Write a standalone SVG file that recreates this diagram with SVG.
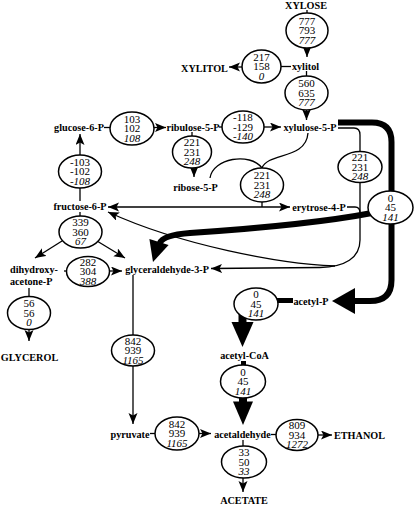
<svg xmlns="http://www.w3.org/2000/svg" width="417" height="508" viewBox="0 0 417 508">
<style>
.e ellipse{fill:#fff;stroke:#000;stroke-width:1.5}
.e text{font-family:"Liberation Serif","Times New Roman",serif;font-size:11px;text-anchor:middle;fill:#000}
.e text.i{font-style:italic}
.m text{font-family:"Liberation Serif","Times New Roman",serif;font-size:10.2px;font-weight:bold;text-anchor:middle;fill:#000}
.c path,.c line{fill:none;stroke:#000;stroke-width:1.3}
.c .a{marker-end:url(#ah)}
.c .b{marker-start:url(#ah);marker-end:url(#ah)}
.c .t{stroke-width:6}
.c polygon{fill:#000;stroke:none}
</style>
<defs>
<marker id="ah" markerUnits="userSpaceOnUse" markerWidth="12" markerHeight="10" refX="11" refY="4.5" orient="auto-start-reverse" viewBox="0 0 12 10">
<path d="M0,0 L11,4.5 L0,9 L2.5,4.5 z" fill="#000"/>
</marker>
</defs>
<g id="connectors" class="c">
<line x1="307" y1="10" x2="307" y2="13"/>
<line class="a" x1="307" y1="48" x2="307" y2="57"/>
<line x1="281" y1="66.5" x2="291" y2="66.5"/>
<line class="a" x1="242" y1="67" x2="229" y2="67"/>
<line x1="306.5" y1="71" x2="306.5" y2="76"/>
<line class="a" x1="306.5" y1="110" x2="306.5" y2="120"/>
<line x1="104" y1="127.5" x2="110" y2="127.5"/>
<line class="a" x1="154" y1="127.5" x2="166" y2="127.5"/>
<line x1="219" y1="127" x2="222" y2="127"/>
<line class="a" x1="264" y1="127" x2="281" y2="127"/>
<line x1="192" y1="132" x2="192" y2="136"/>
<line class="a" x1="194" y1="167" x2="194" y2="177"/>
<path d="M210,178 C213,158 250,152 262,168"/>
<path d="M262,168 C268,152 306,160 308,133"/>
<line x1="262" y1="202" x2="262" y2="207"/>
<line class="b" x1="108" y1="207" x2="290" y2="207"/>
<path d="M347,207 L355,207 Q360,207 360,213"/>
<path d="M338,128 L354,128 Q360,128 360,135 L360,152"/>
<path class="a" d="M360,182 L360,240 C360,258 345,267 320,267.5 L211,268.5"/>
<path class="a" d="M335,266 C280,264 180,245 108,212"/>
<line x1="80" y1="201" x2="80" y2="188"/>
<line class="a" x1="80" y1="155" x2="80" y2="134"/>
<line x1="80" y1="212" x2="80" y2="216"/>
<line class="a" x1="62" y1="241" x2="35" y2="258"/>
<line class="a" x1="97" y1="241" x2="125" y2="258"/>
<line x1="64" y1="271" x2="67" y2="271"/>
<line class="a" x1="109.5" y1="271" x2="122" y2="271"/>
<line x1="29" y1="288" x2="29" y2="296.5"/>
<line class="a" x1="29" y1="329.5" x2="29" y2="341"/>
<line x1="133" y1="275" x2="133" y2="335"/>
<line class="a" x1="133" y1="366" x2="133" y2="424"/>
<line x1="150" y1="433.5" x2="155" y2="433.5"/>
<line class="a" x1="199" y1="433.5" x2="211" y2="433.5"/>
<line x1="271" y1="434.5" x2="276" y2="434.5"/>
<line class="a" x1="318" y1="435" x2="332" y2="435"/>
<line x1="243" y1="440" x2="243" y2="446"/>
<line class="a" x1="243" y1="478" x2="243" y2="492"/>
<path class="t" d="M338,122.5 L372,122.5 Q391.5,122.5 391.5,142 L391.5,280 Q391.5,301 370,301 L354,301"/>
<polygon points="355,288 332,301 355,314"/>
<path class="t" d="M372,213 C320,223 250,229 190,233 Q163,235 160,243"/>
<polygon points="149.4,239 168.6,245 153,262"/>
<line class="t" x1="277" y1="300.5" x2="293" y2="300.5" style="stroke-width:5"/>
<line class="t" x1="242.5" y1="314" x2="242.5" y2="323" style="stroke-width:8"/>
<polygon points="231.5,322 253.5,322 242.5,347"/>
<line class="t" x1="243.5" y1="361" x2="243.5" y2="366" style="stroke-width:5"/>
<line class="t" x1="243" y1="396" x2="243" y2="402" style="stroke-width:8"/>
<polygon points="233,401.5 253,401.5 243,425"/>
</g>
<g id="XYLOSE" class="m"><text x="306" y="9">XYLOSE</text></g>
<g id="xylitol" class="m"><text x="305.5" y="69.7">xylitol</text></g>
<g id="XYLITOL" class="m"><text x="204.5" y="71.5">XYLITOL</text></g>
<g id="xylulose-5-P" class="m"><text x="310" y="130.7">xylulose-5-P</text></g>
<g id="glucose-6-P" class="m"><text x="79" y="130.7">glucose-6-P</text></g>
<g id="ribulose-5-P" class="m"><text x="193" y="130.7">ribulose-5-P</text></g>
<g id="ribose-5-P" class="m"><text x="195.5" y="190.7">ribose-5-P</text></g>
<g id="fructose-6-P" class="m"><text x="80" y="209.7">fructose-6-P</text></g>
<g id="erytrose-4-P" class="m"><text x="319" y="210.5">erytrose-4-P</text></g>
<g id="dihydroxyacetone-P" class="m"><text x="10" y="273" style="text-anchor:start">dihydroxy-</text><text x="10" y="285" style="text-anchor:start">acetone-P</text></g>
<g id="glyceraldehyde-3-P" class="m"><text x="167" y="272.8">glyceraldehyde-3-P</text></g>
<g id="GLYCEROL" class="m"><text x="29.5" y="361">GLYCEROL</text></g>
<g id="acetyl-P" class="m"><text x="311" y="304.5">acetyl-P</text></g>
<g id="acetyl-CoA" class="m"><text x="244.5" y="359">acetyl-CoA</text></g>
<g id="pyruvate" class="m"><text x="130" y="437.5">pyruvate</text></g>
<g id="acetaldehyde" class="m"><text x="242.5" y="437.5">acetaldehyde</text></g>
<g id="ETHANOL" class="m"><text x="359.5" y="438.5">ETHANOL</text></g>
<g id="ACETATE" class="m"><text x="244" y="503.5">ACETATE</text></g>
<g id="r1" class="e"><ellipse cx="307" cy="30.5" rx="21" ry="17.5"/><text x="307" y="24.5">777</text><text x="307" y="34.2">793</text><text class="i" x="307" y="43.9">777</text></g>
<g id="r2" class="e"><ellipse cx="261.5" cy="66.5" rx="19.5" ry="16.5"/><text x="261.5" y="60.5">217</text><text x="261.5" y="70.2">158</text><text class="i" x="261.5" y="79.9">0</text></g>
<g id="r3" class="e"><ellipse cx="306.5" cy="93" rx="21.5" ry="17"/><text x="306.5" y="87">560</text><text x="306.5" y="96.7">635</text><text class="i" x="306.5" y="106.4">777</text></g>
<g id="r4" class="e"><ellipse cx="132" cy="128.5" rx="22" ry="16.5"/><text x="132" y="122.5">103</text><text x="132" y="132.2">102</text><text class="i" x="132" y="141.9">108</text></g>
<g id="r5" class="e"><ellipse cx="243" cy="127" rx="21" ry="16"/><text x="243" y="121">-118</text><text x="243" y="130.7">-129</text><text class="i" x="243" y="140.4">-140</text></g>
<g id="r6" class="e"><ellipse cx="192" cy="152" rx="19.5" ry="16"/><text x="192" y="146">221</text><text x="192" y="155.7">231</text><text class="i" x="192" y="165.4">248</text></g>
<g id="r7" class="e"><ellipse cx="262" cy="185" rx="21.5" ry="17"/><text x="262" y="179">221</text><text x="262" y="188.7">231</text><text class="i" x="262" y="198.4">248</text></g>
<g id="r8" class="e"><ellipse cx="360" cy="167" rx="22" ry="15.5"/><text x="360" y="161">221</text><text x="360" y="170.7">231</text><text class="i" x="360" y="180.4">248</text></g>
<g id="r9" class="e"><ellipse cx="390.5" cy="207.5" rx="22.5" ry="16.5"/><text x="390.5" y="201.5">0</text><text x="390.5" y="211.2">45</text><text class="i" x="390.5" y="220.9">141</text></g>
<g id="r10" class="e"><ellipse cx="80" cy="171.5" rx="21.5" ry="16.5"/><text x="80" y="165.5">-103</text><text x="80" y="175.2">-102</text><text class="i" x="80" y="184.9">-108</text></g>
<g id="r11" class="e"><ellipse cx="80.5" cy="232" rx="21.5" ry="16"/><text x="80.5" y="226">339</text><text x="80.5" y="235.7">360</text><text class="i" x="80.5" y="245.4">67</text></g>
<g id="r12" class="e"><ellipse cx="88" cy="271.5" rx="21.5" ry="15"/><text x="88" y="265.5">282</text><text x="88" y="275.2">304</text><text class="i" x="88" y="284.9">388</text></g>
<g id="r13" class="e"><ellipse cx="29" cy="313" rx="21.5" ry="16.5"/><text x="29" y="307">56</text><text x="29" y="316.7">56</text><text class="i" x="29" y="326.4">0</text></g>
<g id="r14" class="e"><ellipse cx="133" cy="350.5" rx="21.5" ry="15.5"/><text x="133" y="344.5">842</text><text x="133" y="354.2">939</text><text class="i" x="133" y="363.9">1165</text></g>
<g id="r15" class="e"><ellipse cx="256" cy="304" rx="22" ry="16"/><text x="256" y="298">0</text><text x="256" y="307.7">45</text><text class="i" x="256" y="317.4">141</text></g>
<g id="r16" class="e"><ellipse cx="243" cy="381.5" rx="22.5" ry="16.5"/><text x="243" y="375.5">0</text><text x="243" y="385.2">45</text><text class="i" x="243" y="394.9">141</text></g>
<g id="r17" class="e"><ellipse cx="177" cy="433.5" rx="22" ry="16.5"/><text x="177" y="427.5">842</text><text x="177" y="437.2">939</text><text class="i" x="177" y="446.9">1165</text></g>
<g id="r18" class="e"><ellipse cx="297" cy="435" rx="21" ry="15.5"/><text x="297" y="429">809</text><text x="297" y="438.7">934</text><text class="i" x="297" y="448.4">1272</text></g>
<g id="r19" class="e"><ellipse cx="244" cy="462" rx="22.5" ry="16"/><text x="244" y="456">33</text><text x="244" y="465.7">50</text><text class="i" x="244" y="475.4">33</text></g>
</svg>
